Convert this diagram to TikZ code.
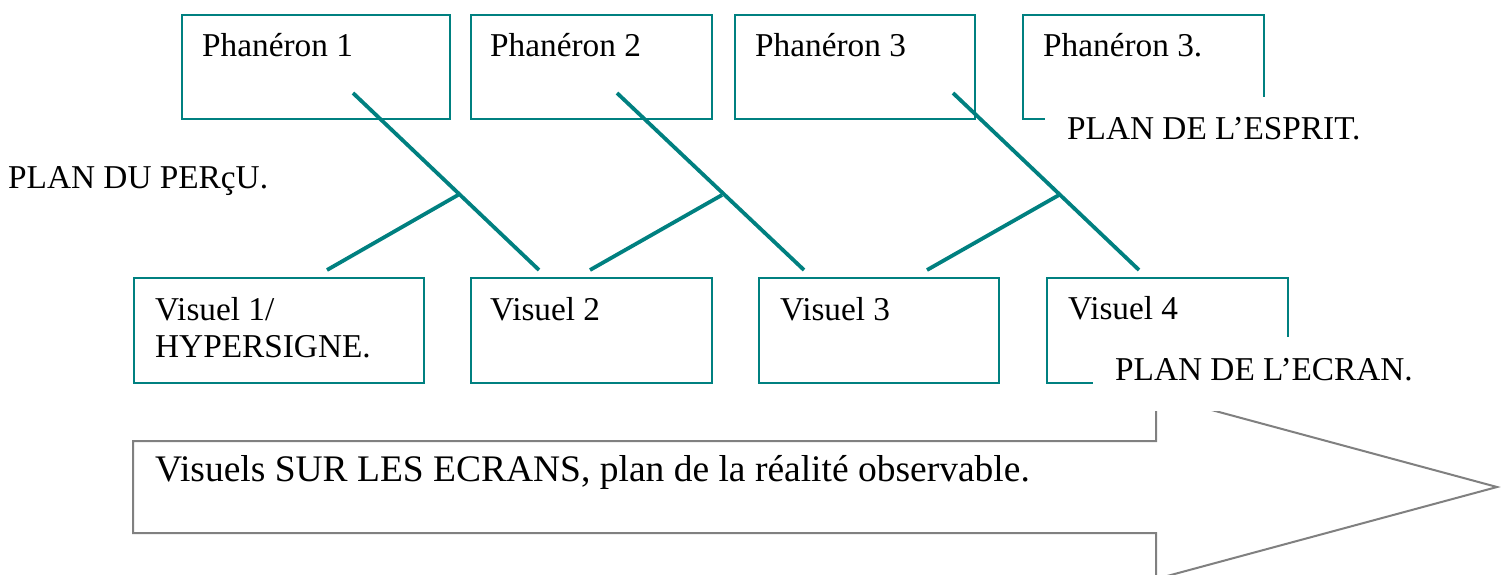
\documentclass[tikz,border=0pt]{standalone}
\usepackage{fontspec}
\setmainfont{Liberation Serif}
\definecolor{teal1}{RGB}{0,128,128}
\definecolor{arrgray}{RGB}{128,128,128}
\tikzset{
  tbox/.style={draw=teal1, line width=2pt, inner sep=0pt, anchor=north west},
  conn/.style={draw=teal1, line width=3.8pt},
  lbl/.style={inner sep=0pt, anchor=base west, font=\fontsize{33.3}{37}\selectfont},
  cover/.style={fill=white, draw=none, inner sep=0pt, anchor=north west},
}
\begin{document}
\begin{tikzpicture}[x=1pt,y=-1pt]
\useasboundingbox[fill=white] (0,0) rectangle (1501,574);
% upper boxes (Phanéron)
\node[tbox, minimum width=268pt, minimum height=104pt] (p1) at (181,14) {};
\node[tbox, minimum width=241pt, minimum height=104pt] (p2) at (470,14) {};
\node[tbox, minimum width=240pt, minimum height=104pt] (p3) at (734,14) {};
\node[tbox, minimum width=241pt, minimum height=104pt] (p4) at (1022,14) {};
\node[lbl] (tp1) at (202,56) {Phanéron 1};
\node[lbl] (tp2) at (490,56) {Phanéron 2};
\node[lbl] (tp3) at (755,56) {Phanéron 3};
\node[lbl] (tp4) at (1043,56) {Phanéron 3.};
% lower boxes (Visuel)
\node[tbox, minimum width=290pt, minimum height=105pt] (v1) at (133,277) {};
\node[tbox, minimum width=241pt, minimum height=105pt] (v2) at (470,277) {};
\node[tbox, minimum width=240pt, minimum height=105pt] (v3) at (758,277) {};
\node[tbox, minimum width=241pt, minimum height=105pt] (v4) at (1046,277) {};
\node[lbl, anchor=north west, align=left] (tv1) at (155,297) {Visuel 1/\\HYPERSIGNE.};
\node[lbl] (tv2) at (490,320) {Visuel 2};
\node[lbl] (tv3) at (780,320) {Visuel 3};
\node[lbl] (tv4) at (1068,319) {Visuel 4};
% connectors
\coordinate (a1) at (353,93);  \coordinate (b1) at (539,270);
\coordinate (m1) at (458,195); \coordinate (c1) at (327,270);
\coordinate (a2) at (617,93);  \coordinate (b2) at (804,270);
\coordinate (m2) at (722,195); \coordinate (c2) at (590,270);
\coordinate (a3) at (953,93);  \coordinate (b3) at (1139,270);
\coordinate (m3) at (1059,195); \coordinate (c3) at (927,270);
\draw[conn] (a1) -- (b1);
\draw[conn] (m1) -- (c1);
\draw[conn] (a2) -- (b2);
\draw[conn] (m2) -- (c2);
\draw[conn] (a3) -- (b3);
\draw[conn] (m3) -- (c3);
% big arrow
\draw[arrgray, line width=2pt, line join=miter]
  (133,441) -- (1156,441) -- (1156,395) -- (1497,487) -- (1156,579)
  -- (1156,533) -- (133,533) -- cycle;
\node[inner sep=0pt, anchor=base west, font=\fontsize{37.5}{42}\selectfont] (tarr) at (155,481)
  {Visuels SUR LES ECRANS, plan de la réalité observable.};
% plan labels
\node[lbl] (tpercu) at (8,188) {PLAN DU PERçU.};
\node[cover, minimum width=335pt, minimum height=63pt] (cesp) at (1045,97) {};
\node[lbl] (tesp) at (1067,139) {PLAN DE L’ESPRIT.};
\node[cover, minimum width=342pt, minimum height=74pt] (cecr) at (1093,337) {};
\node[lbl] (tecr) at (1115,380) {PLAN DE L’ECRAN.};
\end{tikzpicture}
\end{document}
